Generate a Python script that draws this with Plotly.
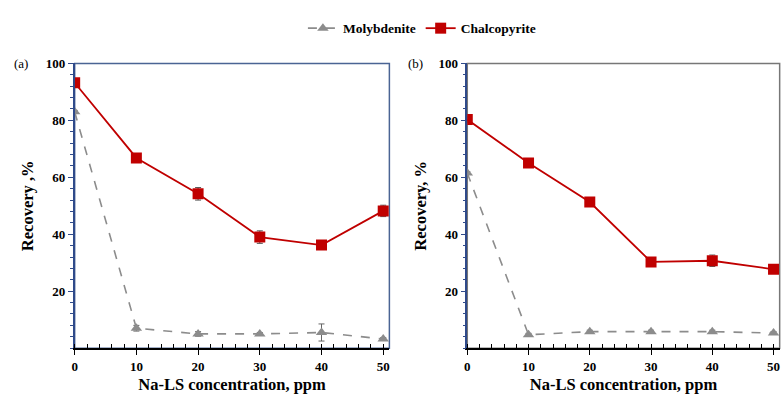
import plotly.graph_objects as go

conc = [0, 10, 20, 30, 40, 50]
moly_a = [83, 7, 5, 5, 5.5, 3.2]
moly_a_err = [0.5, 1, 0.8, 0.5, 3, 0.5]
chalco_a = [93.2, 66.8, 54.2, 39, 36.2, 48.2]
chalco_a_err = [1.5, 1, 2.2, 2.2, 1, 2]
moly_b = [61.5, 4.7, 5.8, 5.8, 5.8, 5.3]
moly_b_err = [0.5, 0.5, 0.5, 0.5, 0.5, 0.5]
chalco_b = [80.3, 65, 51.3, 30.3, 30.7, 27.7]
chalco_b_err = [1, 1, 1, 1, 2, 1]
x_ticks = [0, 10, 20, 30, 40, 50]
y_ticks = [20, 40, 60, 80, 100]

FONT = "Liberation Serif"
RED = "#C00000"
GRAY = "#8c8c8c"
BLUE = "#2f4a8a"

fig = go.Figure()

def add_panel(xa, ya, moly, moly_err, chal, chal_err, show):
    fig.add_trace(go.Scatter(
        x=conc, y=moly, name="Molybdenite", mode="lines+markers",
        line=dict(color=GRAY, width=1.6, dash="dash"),
        marker=dict(symbol="triangle-up", size=10, color=GRAY),
        error_y=dict(type="data", array=moly_err, color="#666", thickness=1, width=3),
        xaxis=xa, yaxis=ya, showlegend=show, legendrank=1))
    fig.add_trace(go.Scatter(
        x=conc, y=chal, name="Chalcopyrite", mode="lines+markers",
        line=dict(color=RED, width=1.8),
        marker=dict(symbol="square", size=11, color=RED),
        error_y=dict(type="data", array=chal_err, color="#555", thickness=1, width=3),
        xaxis=xa, yaxis=ya, showlegend=show, legendrank=2))

add_panel("x", "y", moly_a, moly_a_err, chalco_a, chalco_a_err, True)
add_panel("x2", "y2", moly_b, moly_b_err, chalco_b, chalco_b_err, False)

tickfont = dict(family=FONT, size=13, color="black", weight="bold")
titlefont = dict(family=FONT, size=16.5, color="black", weight="bold")

def xaxis(domain, anchor):
    return dict(domain=domain, anchor=anchor, range=[0, 51], tickvals=x_ticks,
                showgrid=False, zeroline=False, showline=True, linecolor="black", linewidth=1.5,
                ticks="outside", ticklen=5, tickcolor="black", tickwidth=1.2,
                minor=dict(dtick=2, tick0=0, ticks="inside", ticklen=4, tickcolor="black", tickwidth=1),
                tickfont=tickfont,
                title=dict(text="Na-LS concentration, ppm", font=titlefont, standoff=6))

def yaxis(domain, anchor, title):
    return dict(domain=domain, anchor=anchor, range=[0, 100], tickvals=y_ticks,
                showgrid=False, zeroline=False, showline=True, linecolor=BLUE, linewidth=1.5,
                ticks="outside", ticklen=5, tickcolor=BLUE, tickwidth=1.2,
                minor=dict(dtick=4, tick0=0, ticks="outside", ticklen=3, tickcolor=BLUE, tickwidth=1),
                tickfont=tickfont,
                title=dict(text=title, font=titlefont, standoff=8))

YD = [0.123, 0.855]
fig.update_layout(
    width=782, height=396, autosize=False,
    margin=dict(l=0, r=0, t=0, b=0),
    paper_bgcolor="white", plot_bgcolor="white",
    xaxis=xaxis([0.092, 0.496], "y"),
    yaxis=yaxis(YD, "x", "Recovery ,%"),
    xaxis2=xaxis([0.596, 0.997], "y2"),
    yaxis2=yaxis(YD, "x2", "Recovery, %"),
    legend=dict(orientation="h", x=0.385, xanchor="left", y=0.945, yanchor="middle",
                font=dict(family=FONT, size=13.5, color="black", weight="bold"),
                bgcolor="rgba(0,0,0,0)", itemwidth=30, tracegroupgap=0),
    shapes=[
        dict(type="rect", xref="x domain", yref="y domain", x0=0, x1=1, y0=0, y1=1,
             line=dict(color="#4a6494", width=1.5), layer="below"),
        dict(type="rect", xref="x2 domain", yref="y2 domain", x0=0, x1=1, y0=0, y1=1,
             line=dict(color="#777", width=1.5), layer="below"),
    ],
    annotations=[
        dict(text="(a)", xref="paper", yref="paper", x=0.012, y=YD[1], xanchor="left",
             yanchor="middle", showarrow=False, font=dict(family=FONT, size=13, color="black")),
        dict(text="(b)", xref="paper", yref="paper", x=0.517, y=YD[1], xanchor="left",
             yanchor="middle", showarrow=False, font=dict(family=FONT, size=13, color="black")),
    ],
)

fig.write_html("out.html", config={"displayModeBar": False},
               post_script="document.body.style.margin='0';document.body.style.overflow='hidden';")
